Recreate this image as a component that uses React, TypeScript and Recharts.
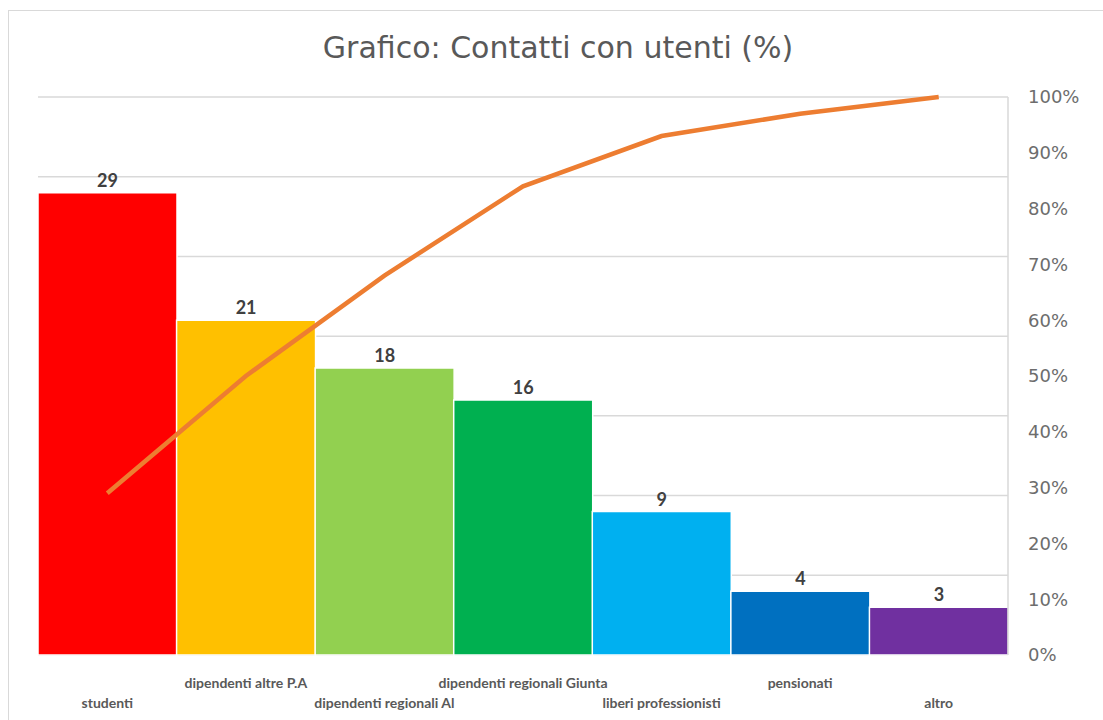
import { Bar, CartesianGrid, Cell, ComposedChart, LabelList, Line, XAxis, YAxis } from "recharts";

const categories = [
  "studenti",
  "dipendenti altre P.A",
  "dipendenti regionali Al",
  "dipendenti regionali Giunta",
  "liberi professionisti",
  "pensionati",
  "altro",
];
const contacts = [29, 21, 18, 16, 9, 4, 3];
const cumulativePct = [29, 50, 68, 84, 93, 97, 100];
const barColors = ["#FF0000", "#FFC000", "#92D050", "#00B050", "#00B0F0", "#0070C0", "#7030A0"];
const pctTicks = [0, 10, 20, 30, 40, 50, 60, 70, 80, 90, 100];
const countTicks = [0, 5, 10, 15, 20, 25, 30, 35];

const chartData = categories.map((name, i) => ({
  name,
  value: contacts[i],
  cum: cumulativePct[i],
}));

const FONT = "Lato, 'Open Sans', sans-serif";
const WIDE = "'DejaVu Sans', Verdana, sans-serif";

function StaggerTick(props: any) {
  const { x, y, payload, index } = props;
  const dy = index % 2 === 0 ? 45 : 25;
  return (
    <text x={x} y={y + dy} textAnchor="middle" fill="#595959" fontSize={14} fontWeight={700} fontFamily={FONT}>
      {payload.value}
    </text>
  );
}

export default function App() {
  return (
    <div style={{ position: "absolute", left: 0, top: 0, width: 1103, height: 720, background: "#fff", overflow: "hidden" }}>
      <div
        style={{
          position: "absolute",
          left: 8,
          top: 10,
          width: 1120,
          height: 740,
          border: "1px solid #d9d9d9",
        }}
      />
      <div
        style={{
          position: "absolute",
          left: 0,
          width: 1116,
          top: 30,
          textAlign: "center",
          fontFamily: WIDE,
          fontSize: 30,
          lineHeight: "36px",
          color: "#595959",
        }}
      >
        Grafico: Contatti con utenti (%)
      </div>
      <div style={{ position: "absolute", left: 0, top: 0 }}>
        <ComposedChart
          width={1103}
          height={720}
          data={chartData}
          margin={{ top: 97, right: 0, bottom: 0, left: 38 }}
          barCategoryGap={0}
        >
          <CartesianGrid yAxisId="left" vertical={false} stroke="#d9d9d9" strokeWidth={1.5} />
          <XAxis
            dataKey="name"
            interval={0}
            height={65}
            axisLine={false}
            tickLine={false}
            tick={<StaggerTick />}
          />
          <YAxis yAxisId="left" hide domain={[0, 35]} ticks={countTicks} />
          <YAxis
            yAxisId="right"
            orientation="right"
            domain={[0, 100]}
            ticks={pctTicks}
            width={95}
            tickFormatter={(v: number) => `${v}%`}
            axisLine={{ stroke: "#d9d9d9", strokeWidth: 1.5 }}
            tickLine={false}
            tickSize={0}
            tickMargin={20}
            tick={{ fill: "#6d6d6d", fontSize: 18, fontFamily: WIDE }}
          />
          <Bar yAxisId="left" dataKey="value" stroke="#fff" strokeWidth={1.5} isAnimationActive={false}>
            {chartData.map((d, i) => (
              <Cell key={d.name} fill={barColors[i]} />
            ))}
            <LabelList
              dataKey="value"
              position="top"
              offset={6}
              fill="#404040"
              fontSize={18}
              fontWeight={700}
              fontFamily={FONT}
            />
          </Bar>
          <Line
            yAxisId="right"
            type="linear"
            dataKey="cum"
            stroke="#ED7D31"
            strokeWidth={4.5}
            dot={false}
            isAnimationActive={false}
          />
        </ComposedChart>
      </div>
    </div>
  );
}
